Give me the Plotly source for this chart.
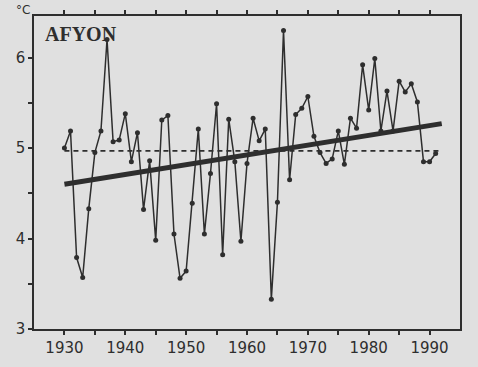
import plotly.graph_objects as go

years = list(range(1930, 1992))
temps = [5.00, 5.19, 3.79, 3.57, 4.33, 4.95, 5.19, 6.20, 5.07, 5.09,
         5.38, 4.85, 5.17, 4.32, 4.86, 3.98, 5.31, 5.36, 4.05, 3.56,
         3.64, 4.39, 5.21, 4.05, 4.72, 5.49, 3.82, 5.32, 4.85, 3.97,
         4.83, 5.33, 5.08, 5.21, 3.33, 4.40, 6.30, 4.65, 5.37, 5.44,
         5.57, 5.13, 4.95, 4.83, 4.88, 5.19, 4.82, 5.33, 5.22, 5.92,
         5.42, 5.99, 5.19, 5.63, 5.19, 5.74, 5.62, 5.71, 5.51, 4.85,
         4.85, 4.94]
trend_years = [1930, 1992]
trend_vals = [4.60, 5.27]
mean_years = [1930, 1992]
mean_vals = [4.97, 4.97]
x_ticks = [1930, 1940, 1950, 1960, 1970, 1980, 1990]
y_ticks = [3, 4, 5, 6]

ink = "#2e2e2e"
bg = "#e0e0e0"

fig = go.Figure()
fig.add_trace(go.Scatter(x=mean_years, y=mean_vals, mode="lines",
                         line=dict(color=ink, width=1.7, dash="5px,4px"),
                         showlegend=False, hoverinfo="skip"))
fig.add_trace(go.Scatter(x=years, y=temps, mode="lines+markers",
                         line=dict(color=ink, width=1.5),
                         marker=dict(color=ink, size=5),
                         showlegend=False))
fig.add_trace(go.Scatter(x=trend_years, y=trend_vals, mode="lines",
                         line=dict(color=ink, width=5),
                         showlegend=False, hoverinfo="skip"))

fig.update_layout(
    width=478, height=367,
    margin=dict(l=34, r=18, t=10, b=34),
    paper_bgcolor=bg, plot_bgcolor=bg,
    font=dict(family="DejaVu Sans", color=ink, size=15),
    xaxis=dict(range=[1925, 1995], tickvals=x_ticks, ticks="outside",
               ticklen=4, tickwidth=1.5, tickcolor=ink,
               showline=True, linecolor=ink, linewidth=1.5, mirror="ticks",
               showgrid=False, zeroline=False,
               minor=dict(tickvals=[1935, 1945, 1955, 1965, 1975, 1985],
                          ticks="outside", ticklen=4, tickwidth=1.5, tickcolor=ink),
               tickfont=dict(size=15, family="DejaVu Sans", color=ink)),
    yaxis=dict(range=[3, 6.46], tickvals=y_ticks, ticks="outside",
               ticklen=4, tickwidth=1.5, tickcolor=ink,
               showline=True, linecolor=ink, linewidth=1.5, mirror=True,
               showgrid=False, zeroline=False,
               minor=dict(tickvals=[3.5, 4.5, 5.5], ticks="outside",
                          ticklen=4, tickwidth=1.5, tickcolor=ink),
               tickfont=dict(size=15, family="DejaVu Sans", color=ink)),
    annotations=[
        dict(text="<b>AFYON</b>", xref="paper", yref="paper", x=0.02, y=0.985,
             xanchor="left", yanchor="top", showarrow=False,
             font=dict(family="Liberation Serif", size=20, color=ink)),
        dict(text="°C", xref="paper", yref="paper", x=-0.005, y=1.02,
             xanchor="right", yanchor="middle", showarrow=False,
             font=dict(family="DejaVu Sans", size=12, color=ink)),
    ],
)

fig.write_html("out.html")
